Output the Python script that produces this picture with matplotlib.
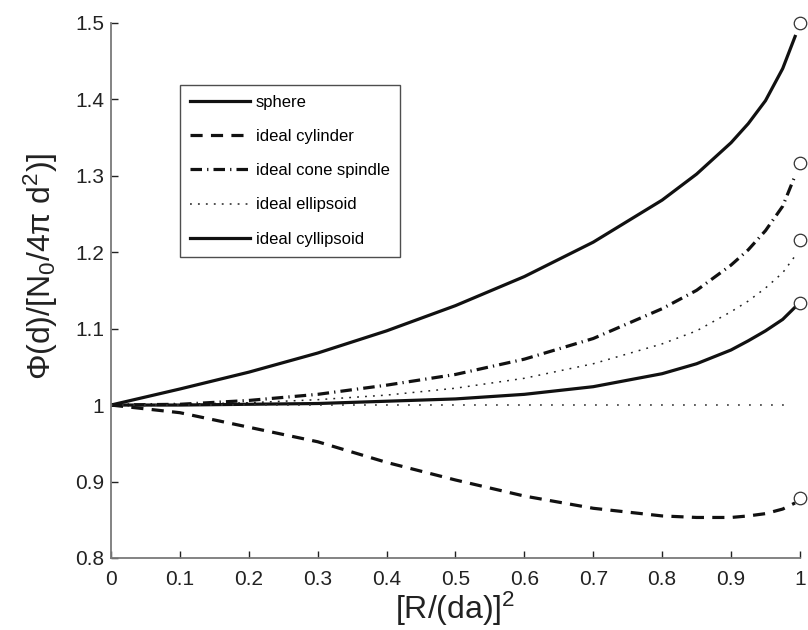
import matplotlib
matplotlib.use("Agg")
import matplotlib.pyplot as plt

plt.rcParams['font.family'] = ['Liberation Sans', 'DejaVu Sans']
plt.rcParams['mathtext.fontset'] = 'custom'
plt.rcParams['mathtext.rm'] = 'Liberation Sans'
plt.rcParams['mathtext.it'] = 'Liberation Sans:italic'

# sample positions along [R/(da)]^2
x = [0.0, 0.1, 0.2, 0.3, 0.4, 0.5, 0.6, 0.7, 0.8, 0.85, 0.9, 0.925, 0.95, 0.975, 0.993]

sphere = [1.0, 1.021, 1.043, 1.068, 1.097, 1.130, 1.168, 1.213, 1.268, 1.302, 1.343, 1.368, 1.398, 1.440, 1.482]
cylinder = [1.0, 0.990, 0.971, 0.952, 0.925, 0.902, 0.881, 0.865, 0.855, 0.853, 0.853, 0.855, 0.858, 0.864, 0.872]
cone_spindle = [1.0, 1.001, 1.006, 1.014, 1.026, 1.040, 1.060, 1.087, 1.126, 1.150, 1.183, 1.203, 1.228, 1.260, 1.300]
ellipsoid = [1.0, 1.001, 1.003, 1.007, 1.013, 1.022, 1.035, 1.054, 1.080, 1.097, 1.122, 1.136, 1.153, 1.173, 1.195]
cyllipsoid = [1.0, 1.000, 1.001, 1.002, 1.005, 1.008, 1.014, 1.024, 1.041, 1.054, 1.072, 1.084, 1.097, 1.112, 1.128]

# limiting values marked with open circles at x = 1
limit_x = [1.0, 1.0, 1.0, 1.0, 1.0]
limit_y = [1.5, 0.878, 1.316, 1.216, 1.133]

ref_x = [0.0, 0.99]
ref_y = [1.0, 1.0]

x_ticks = [0, 0.1, 0.2, 0.3, 0.4, 0.5, 0.6, 0.7, 0.8, 0.9, 1]
x_tick_labels = ['0', '0.1', '0.2', '0.3', '0.4', '0.5', '0.6', '0.7', '0.8', '0.9', '1']
y_ticks = [0.8, 0.9, 1.0, 1.1, 1.2, 1.3, 1.4, 1.5]
y_tick_labels = ['0.8', '0.9', '1', '1.1', '1.2', '1.3', '1.4', '1.5']

fig = plt.figure(figsize=(8.08, 6.3), dpi=100)
ax = fig.add_axes([0.1374, 0.1143, 0.8526, 0.8497])

lw = 2.3
ax.plot(x, sphere, color='#111111', lw=lw, label='sphere')
ax.plot(x, cylinder, color='#111111', lw=lw, dashes=(3.8, 2.6), label='ideal cylinder')
ax.plot(x, cone_spindle, color='#111111', lw=lw, dashes=(3.6, 1.6, 0.4, 1.6), label='ideal cone spindle')
ax.plot(x, ellipsoid, color='#222222', lw=1.1, dashes=(1.2, 4.0), label='ideal ellipsoid')
ax.plot(x, cyllipsoid, color='#111111', lw=lw, label='ideal cyllipsoid')
ax.plot(ref_x, ref_y, color='#333333', lw=1.1, dashes=(1.2, 6.0))

ax.plot(limit_x, limit_y, linestyle='none', marker='o', markersize=9,
        markerfacecolor='white', markeredgecolor='#333333', markeredgewidth=0.9,
        clip_on=False, zorder=5)

ax.set_xlim(0, 1)
ax.set_ylim(0.8, 1.5)
ax.set_xticks(x_ticks)
ax.set_xticklabels(x_tick_labels)
ax.set_yticks(y_ticks)
ax.set_yticklabels(y_tick_labels)

for side in ['top', 'right']:
    ax.spines[side].set_visible(False)
for side in ['left', 'bottom']:
    ax.spines[side].set_color('#7a7a7a')
    ax.spines[side].set_linewidth(1.3)

ax.tick_params(direction='in', length=5, width=1.0, color='#222222',
               labelsize=15, labelcolor='#222222')
ax.tick_params(axis='x', pad=9)
ax.tick_params(axis='y', pad=5)

ax.set_xlabel(r'[R/(da)]$^\mathrm{2}$', fontsize=23, color='#222222', labelpad=0)
ax.set_ylabel(r'Φ(d)/[N$_\mathrm{0}$/4π d$^\mathrm{2}$)]', fontsize=23, color='#222222')
ax.yaxis.set_label_coords(-0.074, 0.545)

leg = ax.legend(loc='upper left', bbox_to_anchor=(0.100, 0.8836), fontsize=12,
                frameon=True, fancybox=False, handlelength=3.6, handletextpad=0.35,
                labelspacing=1.15, borderpad=0.6, borderaxespad=0)
leg.get_frame().set_edgecolor('#222222')
leg.get_frame().set_linewidth(1.0)

fig.savefig('out.png', dpi=100)
